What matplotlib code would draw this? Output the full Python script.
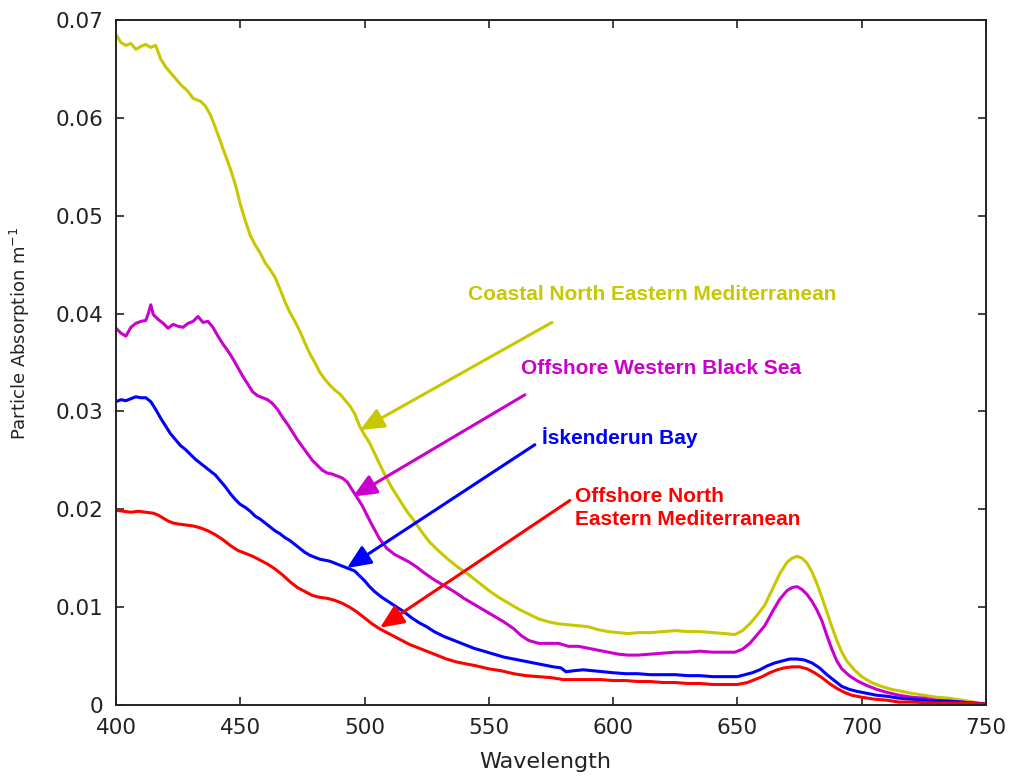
import matplotlib
matplotlib.use("Agg")
import matplotlib.pyplot as plt

# Particle absorption spectra (m^-1) against wavelength (nm)
wl_coastal = [400, 402, 404, 406, 408, 410, 412, 414, 416, 418, 420, 423, 426, 429, 431, 434, 436, 438,
              440, 442, 444, 446, 448, 450, 452, 454, 456, 458, 460, 462, 464, 466, 468, 470, 472, 474,
              476, 478, 480, 482, 484, 486, 488, 490, 492, 494, 496, 498, 500, 502, 505, 508, 511, 514,
              517, 520, 523, 526, 530, 534, 538, 542, 546, 550, 554, 558, 562, 566, 570, 574, 578, 582,
              586, 590, 594, 598, 602, 606, 610, 615, 620, 625, 630, 635, 640, 645, 649, 652, 655, 658,
              661, 664, 667, 670, 672, 674, 676, 678, 680, 682, 684, 686, 688, 690, 692, 694, 697, 700,
              704, 708, 712, 716, 720, 725, 730, 735, 740, 745, 750]
ap_coastal = [0.0685, 0.0677, 0.0674, 0.0676, 0.0670, 0.0673, 0.0675, 0.0672, 0.0674, 0.0660, 0.0652,
              0.0643, 0.0634, 0.0627, 0.0620, 0.0617, 0.0612, 0.0603, 0.0590, 0.0576, 0.0562, 0.0548,
              0.0532, 0.0512, 0.0495, 0.0480, 0.0470, 0.0462, 0.0452, 0.0445, 0.0437, 0.0425, 0.0412,
              0.0401, 0.0392, 0.0382, 0.0370, 0.0359, 0.0350, 0.0340, 0.0333, 0.0327, 0.0322, 0.0318,
              0.0312, 0.0306, 0.0298, 0.0285, 0.0276, 0.0268, 0.0252, 0.0236, 0.0222, 0.0210, 0.0198,
              0.0188, 0.0177, 0.0167, 0.0157, 0.0148, 0.0140, 0.0133, 0.0125, 0.0117, 0.0110, 0.0104,
              0.0098, 0.0093, 0.0088, 0.0085, 0.0083, 0.0082, 0.0081, 0.0080, 0.0077, 0.0075, 0.0074,
              0.0073, 0.0074, 0.0074, 0.0075, 0.0076, 0.0075, 0.0075, 0.0074, 0.0073, 0.0072, 0.0076,
              0.0083, 0.0092, 0.0102, 0.0118, 0.0134, 0.0146, 0.0150, 0.0152, 0.0150, 0.0145, 0.0136,
              0.0124, 0.0110, 0.0095, 0.0080, 0.0066, 0.0054, 0.0045, 0.0036, 0.0029, 0.0023, 0.0019,
              0.0016, 0.0014, 0.0012, 0.0010, 0.0008, 0.0007, 0.0005, 0.0003, 0.0001]

wl_blacksea = [400, 402, 404, 406, 408, 410, 412, 413, 414, 415, 417, 419, 421, 423, 425, 427, 429, 431,
               433, 435, 437, 439, 441, 443, 445, 447, 449, 451, 453, 455, 457, 459, 461, 463, 465, 467,
               469, 471, 473, 475, 477, 479, 481, 483, 485, 487, 489, 491, 493, 495, 497, 499, 501, 503,
               506, 509, 512, 515, 518, 521, 524, 528, 532, 536, 540, 544, 548, 552, 556, 560, 563, 566,
               570, 574, 578, 582, 586, 590, 594, 598, 602, 606, 610, 615, 620, 625, 630, 635, 640, 645,
               649, 652, 655, 658, 661, 664, 667, 670, 672, 674, 676, 678, 680, 682, 684, 686, 688, 690,
               692, 695, 698, 702, 706, 710, 715, 720, 725, 730, 735, 740, 745, 750]
ap_blacksea = [0.0385, 0.0380, 0.0377, 0.0386, 0.0390, 0.0392, 0.0393, 0.0400, 0.0409, 0.0399, 0.0394,
               0.0390, 0.0385, 0.0389, 0.0387, 0.0386, 0.0390, 0.0392, 0.0397, 0.0391, 0.0392, 0.0386,
               0.0377, 0.0369, 0.0362, 0.0354, 0.0345, 0.0336, 0.0328, 0.0320, 0.0316, 0.0314, 0.0312,
               0.0308, 0.0302, 0.0294, 0.0287, 0.0279, 0.0271, 0.0264, 0.0257, 0.0250, 0.0245, 0.0240,
               0.0237, 0.0236, 0.0234, 0.0232, 0.0228, 0.0220, 0.0212, 0.0204, 0.0194, 0.0184, 0.0170,
               0.0160, 0.0154, 0.0150, 0.0146, 0.0141, 0.0135, 0.0128, 0.0122, 0.0116, 0.0109, 0.0103,
               0.0097, 0.0091, 0.0085, 0.0078, 0.0071, 0.0066, 0.0063, 0.0063, 0.0063, 0.0060, 0.0060,
               0.0058, 0.0056, 0.0054, 0.0052, 0.0051, 0.0051, 0.0052, 0.0053, 0.0054, 0.0054, 0.0055,
               0.0054, 0.0054, 0.0054, 0.0057, 0.0063, 0.0072, 0.0081, 0.0095, 0.0108, 0.0117, 0.0120,
               0.0121, 0.0118, 0.0113, 0.0106, 0.0097, 0.0086, 0.0071, 0.0057, 0.0045, 0.0037, 0.0030,
               0.0025, 0.0020, 0.0016, 0.0013, 0.0010, 0.0008, 0.0007, 0.0005, 0.0004, 0.0003, 0.0002,
               0.0001]

wl_iskenderun = [400, 402, 404, 406, 408, 410, 412, 414, 416, 418, 420, 422, 424, 426, 428, 430, 432, 434,
                 436, 438, 440, 442, 444, 446, 448, 450, 452, 454, 456, 458, 460, 462, 464, 466, 468, 470,
                 472, 474, 476, 478, 480, 482, 484, 486, 488, 490, 492, 494, 496, 498, 500, 502, 504, 507,
                 510, 513, 516, 519, 522, 525, 528, 532, 536, 540, 544, 548, 552, 556, 560, 564, 568, 572,
                 576, 579, 581, 584, 588, 592, 596, 600, 605, 610, 615, 620, 625, 630, 635, 640, 645, 650,
                 653, 656, 659, 662, 665, 668, 671, 674, 677, 680, 683, 686, 689, 692, 695, 698, 702, 706,
                 710, 715, 720, 725, 730, 735, 740, 745, 750]
ap_iskenderun = [0.0310, 0.0312, 0.0311, 0.0313, 0.0315, 0.0314, 0.0314, 0.0310, 0.0302, 0.0293, 0.0285,
                 0.0277, 0.0271, 0.0265, 0.0261, 0.0256, 0.0251, 0.0247, 0.0243, 0.0239, 0.0235, 0.0229,
                 0.0223, 0.0216, 0.0210, 0.0205, 0.0202, 0.0198, 0.0193, 0.0190, 0.0186, 0.0182, 0.0178,
                 0.0175, 0.0171, 0.0168, 0.0164, 0.0160, 0.0156, 0.0153, 0.0151, 0.0149, 0.0148, 0.0147,
                 0.0145, 0.0143, 0.0141, 0.0139, 0.0137, 0.0132, 0.0127, 0.0121, 0.0116, 0.0110, 0.0105,
                 0.0100, 0.0095, 0.0089, 0.0084, 0.0080, 0.0075, 0.0070, 0.0066, 0.0062, 0.0058, 0.0055,
                 0.0052, 0.0049, 0.0047, 0.0045, 0.0043, 0.0041, 0.0039, 0.0038, 0.0034, 0.0035, 0.0036,
                 0.0035, 0.0034, 0.0033, 0.0032, 0.0032, 0.0031, 0.0031, 0.0031, 0.0030, 0.0030, 0.0029,
                 0.0029, 0.0029, 0.0031, 0.0033, 0.0036, 0.0040, 0.0043, 0.0045, 0.0047, 0.0047, 0.0046,
                 0.0043, 0.0038, 0.0031, 0.0025, 0.0019, 0.0016, 0.0014, 0.0012, 0.0010, 0.0009, 0.0007,
                 0.0006, 0.0005, 0.0004, 0.0004, 0.0003, 0.0002, 0.0001]

wl_offshore = [400, 403, 406, 409, 412, 415, 417, 419, 421, 423, 425, 428, 431, 434, 437, 440, 443, 446,
               449, 452, 455, 458, 461, 464, 467, 470, 473, 476, 479, 482, 485, 488, 491, 494, 497, 500,
               503, 506, 509, 512, 515, 518, 521, 525, 529, 533, 537, 541, 545, 550, 555, 560, 565, 570,
               575, 580, 585, 590, 595, 600, 605, 610, 615, 620, 625, 630, 635, 640, 645, 650, 654, 657,
               660, 663, 666, 669, 672, 675, 678, 681, 684, 687, 690, 693, 696, 700, 705, 710, 715, 720,
               730, 740, 750]
ap_offshore = [0.0199, 0.0198, 0.0197, 0.0198, 0.0197, 0.0196, 0.0194, 0.0191, 0.0188, 0.0186, 0.0185,
               0.0184, 0.0183, 0.0181, 0.0178, 0.0174, 0.0169, 0.0163, 0.0158, 0.0155, 0.0152, 0.0148,
               0.0144, 0.0139, 0.0133, 0.0126, 0.0120, 0.0116, 0.0112, 0.0110, 0.0109, 0.0107, 0.0104,
               0.0100, 0.0095, 0.0089, 0.0083, 0.0078, 0.0074, 0.0070, 0.0066, 0.0062, 0.0059, 0.0055,
               0.0051, 0.0047, 0.0044, 0.0042, 0.0040, 0.0037, 0.0035, 0.0032, 0.0030, 0.0029, 0.0028,
               0.0026, 0.0026, 0.0026, 0.0026, 0.0025, 0.0025, 0.0024, 0.0024, 0.0023, 0.0023, 0.0022,
               0.0022, 0.0021, 0.0021, 0.0021, 0.0023, 0.0026, 0.0029, 0.0033, 0.0036, 0.0038, 0.0039,
               0.0039, 0.0037, 0.0033, 0.0028, 0.0022, 0.0017, 0.0013, 0.0010, 0.0008, 0.0006, 0.0005,
               0.0003, 0.0003, 0.0002, 0.0002, 0.0001]

x_ticks = [400, 450, 500, 550, 600, 650, 700, 750]
y_ticks = [0, 0.01, 0.02, 0.03, 0.04, 0.05, 0.06, 0.07]
y_ticklabels = ["0", "0.01", "0.02", "0.03", "0.04", "0.05", "0.06", "0.07"]

c_yellow = "#c8c800"
c_magenta = "#cc00cc"
c_blue = "#0000ff"
c_red = "#ff0000"
c_axis = "#222222"

plt.rcParams["font.family"] = ["DejaVu Sans"]

fig = plt.figure(figsize=(10.12, 7.78), dpi=100)
ax = fig.add_axes([0.1146, 0.0938, 0.8597, 0.8805])

lw = 2.2
ax.plot(wl_coastal, ap_coastal, color=c_yellow, lw=lw)
ax.plot(wl_blacksea, ap_blacksea, color=c_magenta, lw=lw)
ax.plot(wl_iskenderun, ap_iskenderun, color=c_blue, lw=lw)
ax.plot(wl_offshore, ap_offshore, color=c_red, lw=lw)

ax.set_xlim(400, 750)
ax.set_ylim(0, 0.07)
ax.set_xticks(x_ticks)
ax.set_yticks(y_ticks)
ax.set_yticklabels(y_ticklabels)
ax.tick_params(direction="in", top=True, right=True, length=6, width=1.2,
               labelsize=15.5, colors=c_axis)
ax.tick_params(axis="x", pad=9)
ax.tick_params(axis="y", pad=9)
for s in ax.spines.values():
    s.set_linewidth(1.4)
    s.set_color(c_axis)

ax.set_xlabel("Wavelength", fontsize=16, color=c_axis)
ax.xaxis.label.set_va("center")
ax.xaxis.set_label_coords(0.494, -0.083)
ax.set_ylabel("Particle Absorption m$^{-1}$", fontsize=13, color=c_axis)
ax.yaxis.label.set_va("center")
ax.yaxis.set_label_coords(-0.110, 0.542)

label_font = dict(fontsize=15, fontweight="bold", family=["Liberation Sans"])


def arrow(tip, tail, color):
    ax.annotate("", xy=tip, xytext=tail,
                arrowprops=dict(arrowstyle="-|>,head_length=0.8,head_width=0.35",
                                mutation_scale=18, lw=2.2, color=color,
                                shrinkA=0, shrinkB=0))


arrow((498.2, 0.0281), (575.4, 0.0391), c_yellow)
arrow((495.3, 0.0213), (564.5, 0.0317), c_magenta)
arrow((492.9, 0.0140), (568.5, 0.0266), c_blue)
arrow((506.2, 0.0079), (582.6, 0.0209), c_red)

ax.text(615.6, 0.0419, "Coastal North Eastern Mediterranean", color=c_yellow,
        ha="center", va="center", **label_font)
ax.text(619.2, 0.0344, "Offshore Western Black Sea", color=c_magenta,
        ha="center", va="center", **label_font)
ax.text(602.5, 0.0273, "İskenderun Bay", color=c_blue,
        ha="center", va="center", **label_font)
ax.text(584.6, 0.0201, "Offshore North\nEastern Mediterranean", color=c_red,
        ha="left", va="center", linespacing=1.25, **label_font)

fig.savefig("out.png", dpi=100, facecolor="white")
